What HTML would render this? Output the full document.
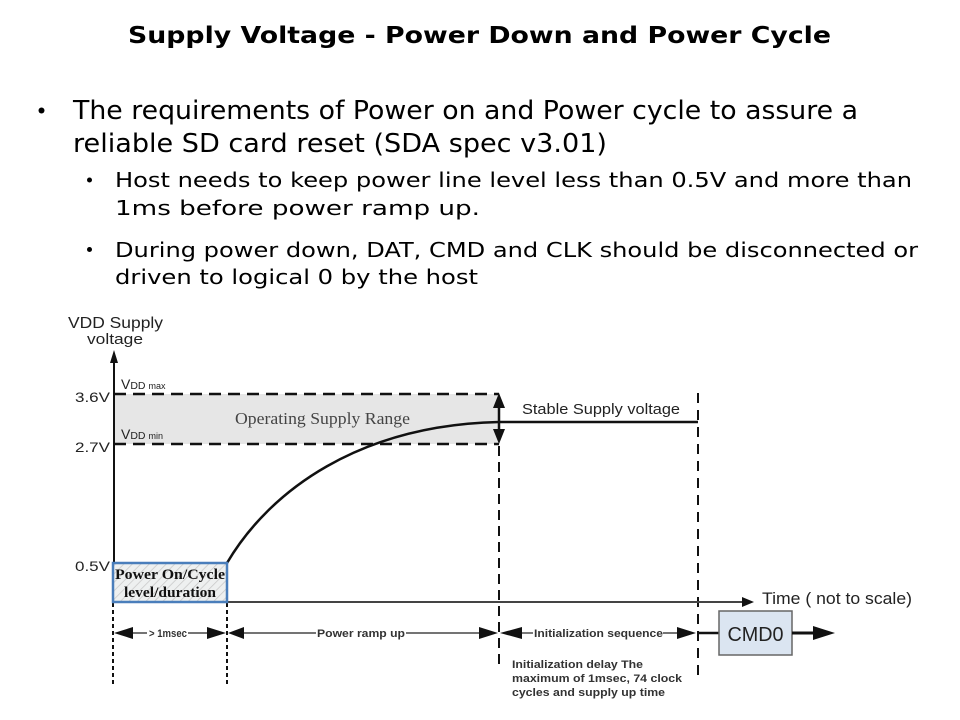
<!DOCTYPE html>
<html><head><meta charset="utf-8"><style>
html,body{margin:0;padding:0;background:#fff;}
svg{display:block;}
</style></head><body>
<svg width="960" height="720" viewBox="0 0 960 720" xmlns="http://www.w3.org/2000/svg">
<defs>
<pattern id="hatch" width="6" height="6" patternUnits="userSpaceOnUse" patternTransform="rotate(45)">
<rect width="6" height="6" fill="#eef0f0"/>
<line x1="0" y1="0" x2="0" y2="6" stroke="#c8c8c8" stroke-width="1.5"/>
</pattern>
</defs>
<rect width="960" height="720" fill="#fff"/>

<!-- Title -->
<text x="479.5" y="43" text-anchor="middle" font-family="'DejaVu Sans', 'Liberation Sans', sans-serif" font-weight="bold" font-size="23" textLength="703" lengthAdjust="spacingAndGlyphs" fill="#000">Supply Voltage - Power Down and Power Cycle</text>

<!-- Bullets -->
<circle cx="41.5" cy="110.5" r="3" fill="#000"/>
<circle cx="89.5" cy="180" r="2.5" fill="#000"/>
<circle cx="89.5" cy="249.5" r="2.5" fill="#000"/>

<g font-family="'DejaVu Sans', 'Liberation Sans', sans-serif" fill="#000">
<text x="73" y="119" font-size="26" textLength="785" lengthAdjust="spacingAndGlyphs">The requirements of Power on and Power cycle to assure a</text>
<text x="73" y="152" font-size="26" textLength="534" lengthAdjust="spacingAndGlyphs">reliable SD card reset (SDA spec v3.01)</text>
<text x="115" y="187" font-size="20.5" textLength="797" lengthAdjust="spacingAndGlyphs">Host needs to keep power line level less than 0.5V and more than</text>
<text x="115" y="215" font-size="20.5" textLength="365" lengthAdjust="spacingAndGlyphs">1ms before power ramp up.</text>
<text x="115" y="257" font-size="20.5" textLength="803" lengthAdjust="spacingAndGlyphs">During power down, DAT, CMD and CLK should be disconnected or</text>
<text x="115" y="284" font-size="20.5" textLength="363" lengthAdjust="spacingAndGlyphs">driven to logical 0 by the host</text>
</g>

<!-- Diagram -->
<!-- operating range band -->
<rect x="114" y="394" width="385" height="50" fill="#e6e6e6"/>

<!-- Y axis labels -->
<g font-family="'Liberation Sans', Arial, sans-serif" fill="#222">
<text x="68" y="328" font-size="16" textLength="95" lengthAdjust="spacingAndGlyphs">VDD Supply</text>
<text x="87" y="344" font-size="15" textLength="56" lengthAdjust="spacingAndGlyphs">voltage</text>
<text x="75" y="402" font-size="14" textLength="35" lengthAdjust="spacingAndGlyphs">3.6V</text>
<text x="75" y="452" font-size="14" textLength="35" lengthAdjust="spacingAndGlyphs">2.7V</text>
<text x="75" y="571" font-size="14" textLength="35" lengthAdjust="spacingAndGlyphs">0.5V</text>
<text x="121" y="389" font-size="14">V<tspan font-size="10.5">DD</tspan><tspan font-size="9" dx="3">max</tspan></text>
<text x="121" y="439" font-size="14">V<tspan font-size="10.5">DD</tspan><tspan font-size="9" dx="3">min</tspan></text>
<text x="522" y="414" font-size="15" textLength="158" lengthAdjust="spacingAndGlyphs">Stable Supply voltage</text>
<text x="762" y="604" font-size="17" textLength="150" lengthAdjust="spacingAndGlyphs">Time ( not to scale)</text>
</g>

<text x="235" y="424" font-family="'Liberation Serif', 'Times New Roman', serif" font-size="17" fill="#444" textLength="175" lengthAdjust="spacingAndGlyphs">Operating Supply Range</text>

<!-- dashed range lines -->
<line x1="114" y1="394" x2="499" y2="394" stroke="#111" stroke-width="2.5" stroke-dasharray="12,7"/>
<line x1="114" y1="444" x2="499" y2="444" stroke="#111" stroke-width="2.5" stroke-dasharray="12,7"/>

<!-- Y axis -->
<line x1="114" y1="360" x2="114" y2="603" stroke="#111" stroke-width="2"/>
<polygon points="114,350 110,363 118,363" fill="#111"/>

<!-- curve -->
<path d="M227,563 C270,490 360,425 499,422" fill="none" stroke="#111" stroke-width="2.5"/>
<!-- stable line -->
<line x1="499" y1="422" x2="698" y2="422" stroke="#111" stroke-width="2.5"/>

<!-- double arrow at x=499 -->
<line x1="499" y1="400" x2="499" y2="438" stroke="#111" stroke-width="2.5"/>
<polygon points="499,393 493,408 505,408" fill="#111"/>
<polygon points="499,444 493,429 505,429" fill="#111"/>

<!-- vertical dashed lines -->
<line x1="499" y1="446" x2="499" y2="670" stroke="#111" stroke-width="2" stroke-dasharray="10,6"/>
<line x1="698" y1="393" x2="698" y2="680" stroke="#111" stroke-width="2" stroke-dasharray="10,7"/>
<line x1="113" y1="603" x2="113" y2="685" stroke="#111" stroke-width="2" stroke-dasharray="4,3"/>
<line x1="227" y1="603" x2="227" y2="685" stroke="#111" stroke-width="2" stroke-dasharray="4,3"/>

<!-- time axis -->
<line x1="114" y1="602" x2="745" y2="602" stroke="#444" stroke-width="2"/>
<polygon points="754,602 742,597 742,607" fill="#111"/>

<!-- Power on box -->
<rect x="113" y="563" width="114" height="39" fill="url(#hatch)" stroke="#4a7ebb" stroke-width="2.5"/>
<g font-family="'Liberation Serif', 'Times New Roman', serif" font-weight="bold" font-size="14.5" fill="#111" text-anchor="middle">
<text x="170" y="579" textLength="110" lengthAdjust="spacingAndGlyphs">Power On/Cycle</text>
<text x="170" y="597" textLength="92" lengthAdjust="spacingAndGlyphs">level/duration</text>
</g>

<!-- dimension arrows y=633 -->
<g stroke="#222" stroke-width="1.2">
<line x1="130" y1="633" x2="147" y2="633"/>
<line x1="188" y1="633" x2="210" y2="633"/>
<line x1="240" y1="633" x2="316" y2="633"/>
<line x1="406" y1="633" x2="482" y2="633"/>
<line x1="518" y1="633" x2="533" y2="633"/>
<line x1="663" y1="633" x2="682" y2="633"/>
</g>
<g fill="#111">
<polygon points="114,633 133,627 133,639"/>
<polygon points="226,633 207,627 207,639"/>
<polygon points="228,633 244,627 244,639"/>
<polygon points="498,633 479,627 479,639"/>
<polygon points="500,633 522,627 522,639"/>
<polygon points="696,633 677,627 677,639"/>
</g>
<g font-family="'Liberation Sans', Arial, sans-serif" font-weight="bold" font-size="11" fill="#333">
<text x="149" y="637" textLength="38" lengthAdjust="spacingAndGlyphs">&gt; 1msec</text>
<text x="317" y="637" textLength="88" lengthAdjust="spacingAndGlyphs">Power ramp up</text>
<text x="534" y="637" textLength="129" lengthAdjust="spacingAndGlyphs">Initialization sequence</text>
<text x="512" y="668" textLength="131" lengthAdjust="spacingAndGlyphs">Initialization delay The</text>
<text x="512" y="682" textLength="170" lengthAdjust="spacingAndGlyphs">maximum of 1msec, 74 clock</text>
<text x="512" y="696" textLength="153" lengthAdjust="spacingAndGlyphs">cycles and supply up time</text>
</g>

<!-- CMD0 -->
<line x1="698" y1="633" x2="719" y2="633" stroke="#111" stroke-width="2.5"/>
<rect x="719" y="611" width="73" height="44" fill="#dbe5f1" stroke="#666" stroke-width="1.5"/>
<text x="755.5" y="641" text-anchor="middle" font-family="'Liberation Sans', Arial, sans-serif" font-size="20" fill="#222" textLength="56" lengthAdjust="spacingAndGlyphs">CMD0</text>
<line x1="792" y1="633" x2="816" y2="633" stroke="#111" stroke-width="3"/>
<polygon points="835,633 813,626 813,640" fill="#111"/>
</svg>
</body></html>
